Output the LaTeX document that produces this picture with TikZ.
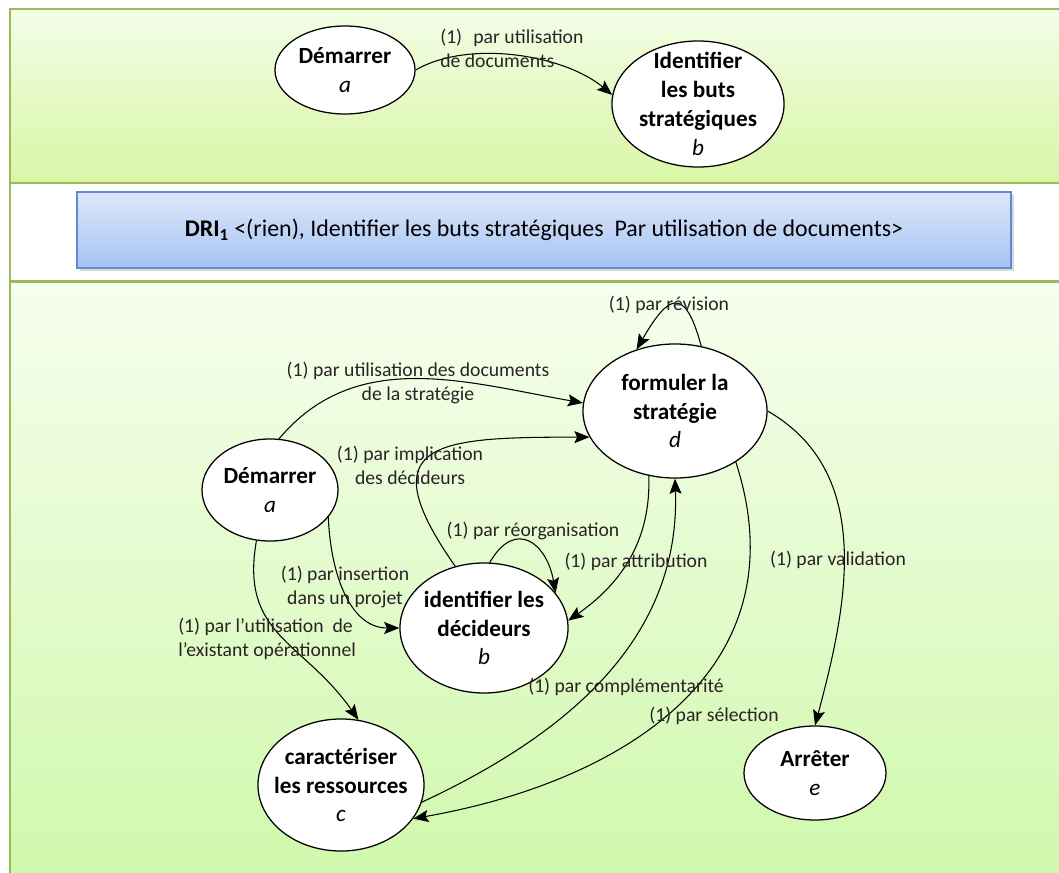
\documentclass[tikz,border=0pt]{standalone}
\usepackage{fontspec}
\setmainfont{Carlito}
\usepackage{tikz}
\usetikzlibrary{arrows.meta,shapes.geometric,shadows}
\definecolor{pnl}{HTML}{9BBB59}
\definecolor{pnltop}{HTML}{F3FDE6}
\definecolor{pnlbot}{HTML}{D8F6A6}
\definecolor{blu}{HTML}{5F8BD0}
\definecolor{blutop}{HTML}{DDE7FA}
\definecolor{blubot}{HTML}{A6C3F3}
\definecolor{txt}{HTML}{2B2226}

\begin{document}
\begin{tikzpicture}[x=0.025cm,y=0.025cm,
   etat/.style={ellipse,draw,line width=0.9pt,fill=white,inner sep=0pt},
   etxt/.style={font=\fontsize{16.5}{20.5}\selectfont\bfseries,align=center,inner sep=0pt},
   lab/.style={font=\fontsize{14}{17}\selectfont,text=txt,align=center,inner sep=0pt},
   fl/.style={line width=0.75pt,-{Stealth[length=3.8mm,width=3mm,inset=0.7mm]}},
   pan/.style={draw=pnl,line width=1.2pt,top color=pnltop,bottom color=pnlbot}]
  \useasboundingbox (0,0) rectangle (1059,-873);
  \clip (0,0) rectangle (1059,-873);
  \fill[white] (0,0) rectangle (1059,-873);

  % bandeaux
  \path[pan] (10,-9) rectangle (1075,-183);
  \path[draw=pnl,line width=2pt,fill=white] (10,-183) rectangle (1075,-281);
  \path[pan,top color=pnltop!70!white,bottom color=pnlbot!90!green!80!white] (10,-282) rectangle (1075,-890);
  \node[draw=blu,line width=1pt,top color=blutop,bottom color=blubot,
        drop shadow={opacity=0.3,shadow xshift=2pt,shadow yshift=-2pt},
        minimum width=23.35cm,minimum height=1.9cm,inner sep=0pt,
        font=\fontsize{17}{20}\selectfont] (dri) at (544,-230)
        {\textbf{DRI\textsubscript{1}} <(rien), Identifier les buts stratégiques\ \ Par utilisation de documents>};

  % carte du haut
  \node[etat,minimum width=3.5cm,minimum height=2.2cm,
        label={[etxt]center:{Démarrer\\{\mdseries\itshape a}}}] (sa) at (345,-70) {};
  \node[etat,minimum width=4.3cm,minimum height=3.15cm,
        label={[etxt]center:{Identifier\\les buts\\stratégiques\\{\mdseries\itshape b}}}] (sb) at (698,-104) {};
  \draw[fl] (sa.east) to[out=30,in=140,looseness=0.8] (sb.174);
  \node[lab,anchor=west,align=left] (ltop) at (440,-48) {(1)\hspace{2.8mm}par utilisation\\de documents};

  % carte du bas
  \node[etat,minimum width=4.6cm,minimum height=3.35cm,
        label={[etxt]center:{formuler la\\stratégie\\{\mdseries\itshape d}}}] (d) at (675,-411) {};
  \node[etat,minimum width=3.4cm,minimum height=2.55cm,
        label={[etxt]center:{Démarrer\\{\mdseries\itshape a}}}] (a) at (270,-490) {};
  \node[etat,minimum width=4.2cm,minimum height=3.25cm,
        label={[etxt]center:{identifier les\\décideurs\\{\mdseries\itshape b}}}] (b) at (484,-628) {};
  \node[etat,minimum width=4.15cm,minimum height=3.3cm,
        label={[etxt]center:{caractériser\\les ressources\\{\mdseries\itshape c}}}] (c) at (341,-785) {};
  \node[etat,minimum width=3.55cm,minimum height=2.35cm,
        label={[etxt]center:{Arrêter\\{\mdseries\itshape e}}}] (e) at (815,-773) {};

  \draw[fl] (d.68) to[out=105,in=60,looseness=2.5] (d.122);
  \draw[fl] (a.80) to[out=50,in=170] (d.175);
  \draw[fl] (b.115) to[out=125,in=180,looseness=2.1] (d.197);
  \draw[fl] (b.85) to[out=60,in=100,looseness=1.8] (b.26);
  \draw[fl] (d.248) to[out=-88,in=35] (b.5);
  \draw[fl] (a.-25) to[out=-88,in=180] (b.west);
  \draw[fl] (a.255) to[out=-100,in=125,looseness=1.2] (c.75);
  \draw[fl] (c.-12) to[out=25,in=-88] (d.south);
  \draw[fl] (d.-40) to[out=-72,in=10,looseness=1.15] (c.-25);
  \draw[fl] (d.east) to[out=-30,in=75] (e.north);

  \node[lab] (lrev) at (669,-305) {(1) par révision};
  \node[lab] (ldoc) at (418,-383) {(1) par utilisation des documents\\de la stratégie};
  \node[lab] (limp) at (410,-465) {(1) par implication\\des décideurs};
  \node[lab] (lreo) at (533,-531) {(1) par réorganisation};
  \node[lab] (lattr) at (636,-562) {(1) par attribution};
  \node[lab] (lins) at (345,-587) {(1) par insertion\\dans un projet};
  \node[lab,anchor=west,align=left] (lexi) at (178,-639) {(1) par l’utilisation\ \ de\\l'existant opérationnel};
  \node[lab] (lcomp) at (626,-687) {(1) par complémentarité};
  \node[lab] (lsel) at (714,-716) {(1) par sélection};
  \node[lab] (lval) at (838,-560) {(1) par validation};
\end{tikzpicture}
\end{document}
